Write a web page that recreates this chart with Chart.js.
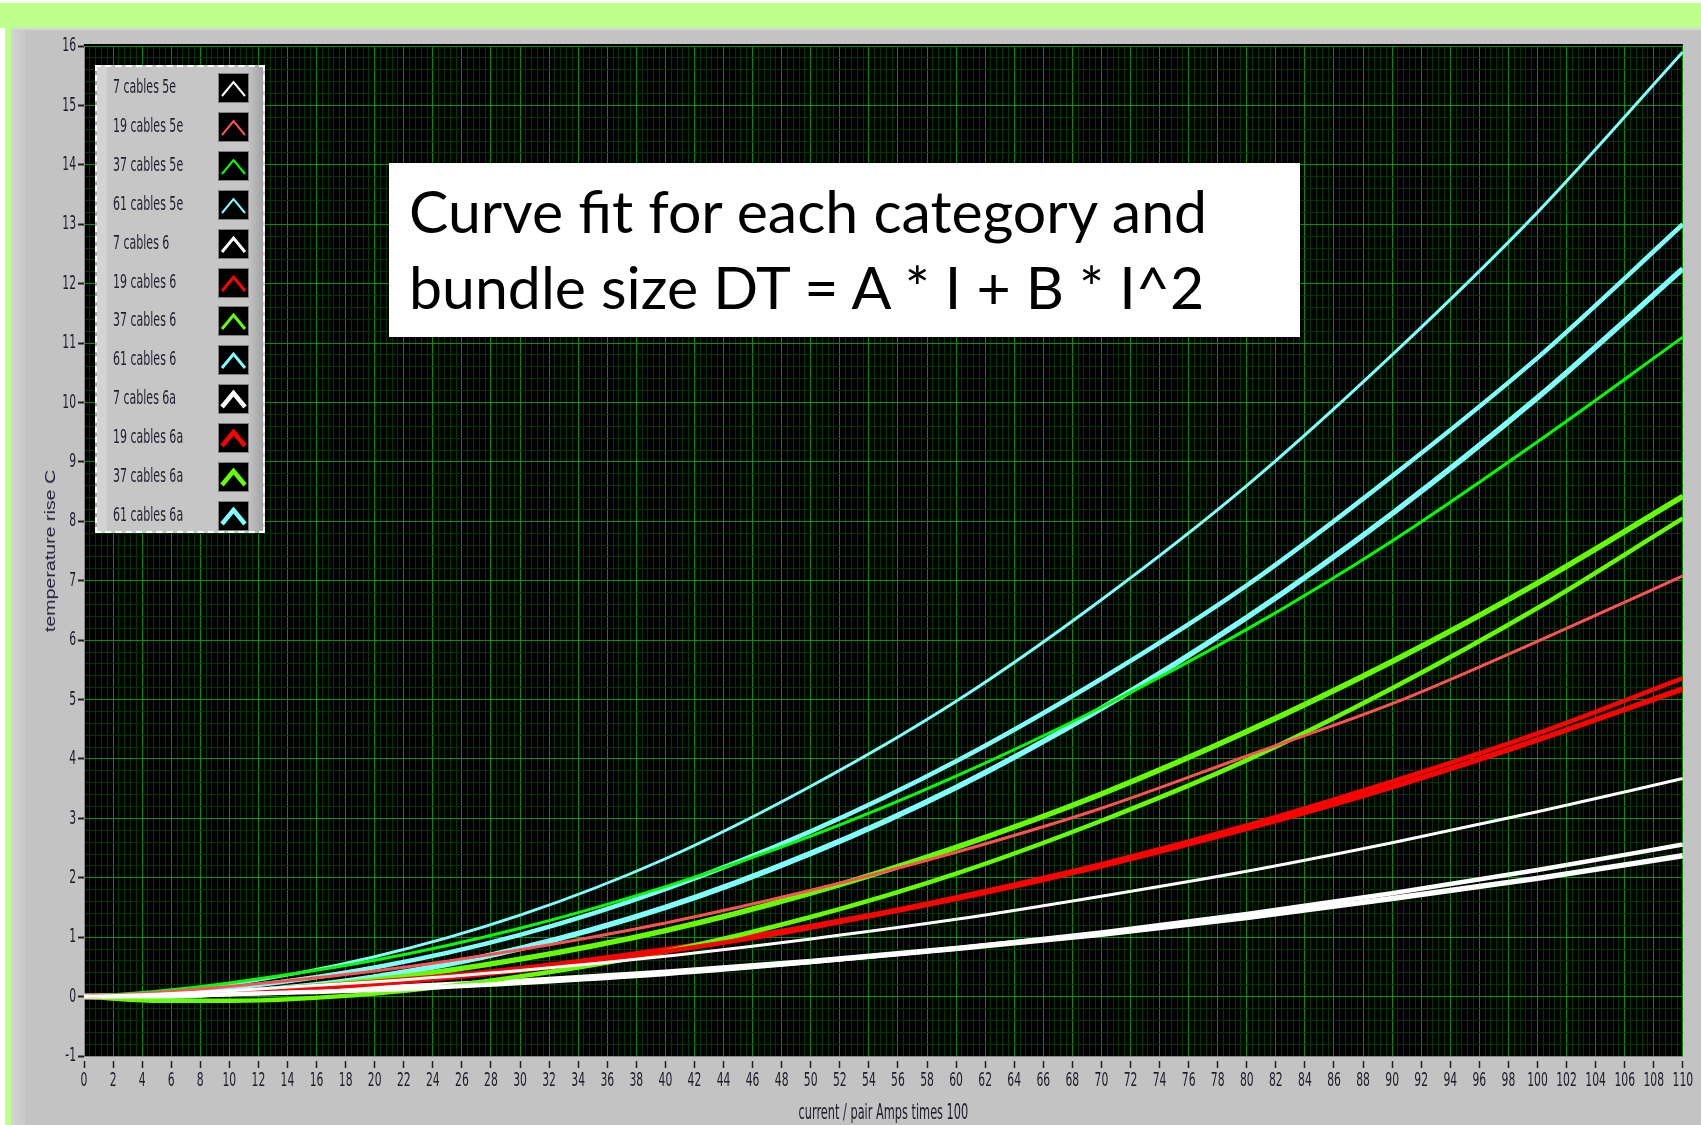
<!DOCTYPE html>
<html><head><meta charset="utf-8">
<script src="https://cdn.jsdelivr.net/npm/chart.js@4.4.1/dist/chart.umd.min.js"></script>
<style>
html,body{margin:0;padding:0;}
body{width:1701px;height:1125px;position:relative;overflow:hidden;background:#fff;}
#greenTop{position:absolute;left:0;top:3px;width:1701px;height:25px;background:#c0ff8c;}
#greenLeft{position:absolute;left:5px;top:3px;width:6px;height:1122px;background:#c0ff8c;}
#panel{position:absolute;left:11px;top:28px;width:1690px;height:1097px;background:#c3c3c3;border-top:2px solid #d6d6d6;box-sizing:border-box;}
#panelLeft{position:absolute;left:11px;top:30px;width:14px;height:1095px;background:linear-gradient(to right,#d4d4d4,#c9c9c9);}
#chartBox{position:absolute;left:0;top:0;width:1701px;height:1125px;}
#ytitle{position:absolute;left:50px;top:551px;transform:translate(-50%,-50%) rotate(-90deg) scale(1.4,1);font-family:"Liberation Sans",Arial,sans-serif;font-size:14px;color:#1e1e3c;white-space:nowrap;}
#legend{position:absolute;left:95px;top:65px;width:170px;height:468px;box-sizing:border-box;border:2px dashed #ffffff;background:linear-gradient(to right,#d3d3d3 0px,#d3d3d3 9px,#c6c6c6 11px,#c6c6c6 150px,#9f9f9f 168px);}
.lrow{position:absolute;left:0;width:166px;height:30px;}
.ltext{position:absolute;left:16px;top:3px;font-family:"DejaVu Sans Condensed","DejaVu Sans",sans-serif;font-size:18px;line-height:22px;color:#1e1e2e;white-space:nowrap;transform-origin:left center;transform:scale(0.68,1.05);}
.lsw{position:absolute;left:121px;top:0;width:31px;height:30px;box-sizing:border-box;background:#000;border:1px solid #808080;}
#note{position:absolute;left:389px;top:163px;width:911px;height:174px;background:#fff;box-sizing:border-box;padding:10px 0 0 20px;font-family:Lato,"Open Sans",sans-serif;font-size:59px;line-height:76px;color:#000;white-space:nowrap;}
</style></head>
<body>
<div id="greenTop"></div><div id="greenLeft"></div><div id="panel"></div><div id="panelLeft"></div>
<div id="chartBox"><canvas id="c" width="1701" height="1125"></canvas></div>
<div id="ytitle">temperature rise C</div>
<div id="legend"></div>
<div id="note">Curve fit for each category and<br>bundle size DT = A * I + B * I^2</div>
<script>
// ---- data ----
const currents = [0,5,10,20,30,40,50,60,70,80,90,100,110];
const c7_5e  = [0,0.04,0.10,0.25,0.44,0.68,0.97,1.30,1.69,2.11,2.59,3.11,3.67];
const c19_5e = [0,0.07,0.17,0.43,0.79,1.24,1.79,2.43,3.17,4.05,4.93,5.98,7.08];
const c37_5e = [0,0.09,0.23,0.61,1.15,1.85,2.70,3.71,4.87,6.18,7.67,9.34,11.10];
const c61_5e = [0,0.07,0.20,0.67,1.37,2.32,3.54,4.97,6.68,8.60,10.80,13.20,15.90];
const c7_6   = [0,0.01,0.04,0.11,0.23,0.38,0.58,0.81,1.08,1.39,1.74,2.13,2.56];
const c19_6  = [0,0.02,0.06,0.21,0.44,0.76,1.16,1.67,2.23,2.88,3.62,4.43,5.36];
const c37_6  = [0,-0.07,-0.07,0.05,0.34,0.76,1.34,2.07,2.96,3.98,5.19,6.54,8.05];
const c61_6  = [0,0.04,0.14,0.49,1.04,1.81,2.78,3.96,5.35,6.92,8.76,10.75,13.00];
const c7_6a  = [0,0.02,0.05,0.14,0.26,0.41,0.59,0.81,1.05,1.33,1.65,1.99,2.37];
const c19_6a = [0,0.03,0.08,0.24,0.47,0.79,1.18,1.65,2.20,2.83,3.53,4.32,5.18];
const c37_6a = [0,0.02,0.07,0.28,0.63,1.11,1.74,2.51,3.41,4.46,5.64,6.96,8.42];
const c61_6a = [0,0.00,0.06,0.33,0.81,1.50,2.41,3.52,4.85,6.38,8.13,10.08,12.25];

const seriesLabels = ['7 cables 5e','19 cables 5e','37 cables 5e','61 cables 5e','7 cables 6','19 cables 6','37 cables 6','61 cables 6','7 cables 6a','19 cables 6a','37 cables 6a','61 cables 6a'];
const seriesValues = [c7_5e,c19_5e,c37_5e,c61_5e,c7_6,c19_6,c37_6,c61_6,c7_6a,c19_6a,c37_6a,c61_6a];
const seriesColors = ['#ffffff','#ff5252','#00ff00','#80ffff','#ffffff','#ff0000','#66ff00','#80ffff','#ffffff','#ff0000','#66ff00','#80ffff'];
const seriesWidths = [3,3,3,3,4.5,4.5,4.5,4.5,5.5,5.5,5.5,5.5];
const legendWidths = [2,2,2,2,3,3,3,3,4.5,4.5,4.5,4.5];
const xMin = 0, xMax = 110, xMajor = 2, xMinor = 0.4;
const yMin = -1, yMax = 16, yMajor = 1, yMinor = 0.2;

const isMult = (v, m) => Math.abs(v / m - Math.round(v / m)) < 1e-6;
const MAJOR = '#009200', MINOR = '#003600';
const COND = '"DejaVu Sans Condensed","DejaVu Sans",sans-serif';
const TEXT_SX = 0.6;   // horizontal squeeze of canvas text (reference font is tall & narrow)

const canvas = document.getElementById('c');
const cctx = canvas.getContext('2d');
const origFillText = cctx.fillText.bind(cctx);
cctx.fillText = function (text, x, y) {
  this.save();
  this.translate(x, y);
  this.scale(TEXT_SX, 1);
  origFillText(text, 0, 0);
  this.restore();
};

const datasets = seriesLabels.map((lab, i) => ({
  label: lab,
  data: currents.map((x, k) => ({x: x, y: seriesValues[i][k]})),
  borderColor: seriesColors[i],
  backgroundColor: seriesColors[i],
  borderWidth: seriesWidths[i],
  pointRadius: 0,
  fill: false,
  cubicInterpolationMode: 'monotone'
}));

const plotBg = {
  id: 'plotBg',
  beforeDraw(chart) {
    const {ctx, chartArea: a} = chart;
    ctx.save();
    ctx.fillStyle = '#000';
    ctx.fillRect(a.left, a.top - 2, a.right - a.left, a.bottom - a.top + 2);
    ctx.restore();
  }
};

new Chart(canvas, {
  type: 'line',
  data: {datasets},
  plugins: [plotBg],
  options: {
    responsive: false,
    animation: false,
    layout: {padding: {left: 0, top: 46, right: 16, bottom: 0}},
    plugins: {legend: {display: false}, tooltip: {enabled: false}},
    scales: {
      x: {
        type: 'linear', min: xMin, max: xMax,
        afterFit(s) { s.height = 69; },
        border: {display: true, color: '#8a8a8a'},
        grid: {
          color: c => isMult(c.tick.value, xMajor) ? MAJOR : MINOR,
          lineWidth: 1,
          tickColor: c => isMult(c.tick.value, xMajor) ? '#202020' : 'rgba(0,0,0,0)',
          tickLength: 12, tickWidth: 1.5,
          tickBorderDash: [0, 4, 8, 100]
        },
        ticks: {
          stepSize: xMinor, autoSkip: false, maxRotation: 0, minRotation: 0, padding: 1,
          color: '#1c1c2c', font: {family: COND, size: 20},
          callback: v => isMult(v, xMajor) ? String(Math.round(v)) : ''
        },
        title: {display: true, text: 'current / pair Amps times 100', color: '#1c1c2c',
          font: {family: COND, size: 21}, padding: {top: 0, bottom: -1}}
      },
      y: {
        type: 'linear', min: yMin, max: yMax,
        afterFit(s) { s.width = 84; },
        border: {display: true, color: '#8a8a8a'},
        grid: {
          color: c => isMult(c.tick.value, yMajor) ? MAJOR : MINOR,
          lineWidth: 1,
          tickColor: c => isMult(c.tick.value, yMajor) ? '#202020' : 'rgba(0,0,0,0)',
          tickLength: 6, tickWidth: 2
        },
        ticks: {
          stepSize: yMinor, autoSkip: false, padding: 2,
          color: '#1c1c2c', font: {family: COND, size: 20},
          callback: v => isMult(v, yMajor) ? String(Math.round(v)) : ''
        }
      }
    }
  }
});

// HTML legend built from the series
const leg = document.getElementById('legend');
seriesLabels.forEach((lab, i) => {
  const row = document.createElement('div');
  row.className = 'lrow';
  row.style.top = (6 + i * 38.9) + 'px';
  const t = document.createElement('div');
  t.className = 'ltext';
  t.textContent = lab;
  const sw = document.createElement('div');
  sw.className = 'lsw';
  sw.innerHTML = '<svg width="29" height="28" viewBox="0 0 29 28"><polyline points="3,22 14.5,8 26,22" fill="none" stroke="' +
    seriesColors[i] + '" stroke-width="' + legendWidths[i] + '" stroke-linejoin="miter"/></svg>';
  row.appendChild(t); row.appendChild(sw);
  leg.appendChild(row);
});
</script>
</body></html>
